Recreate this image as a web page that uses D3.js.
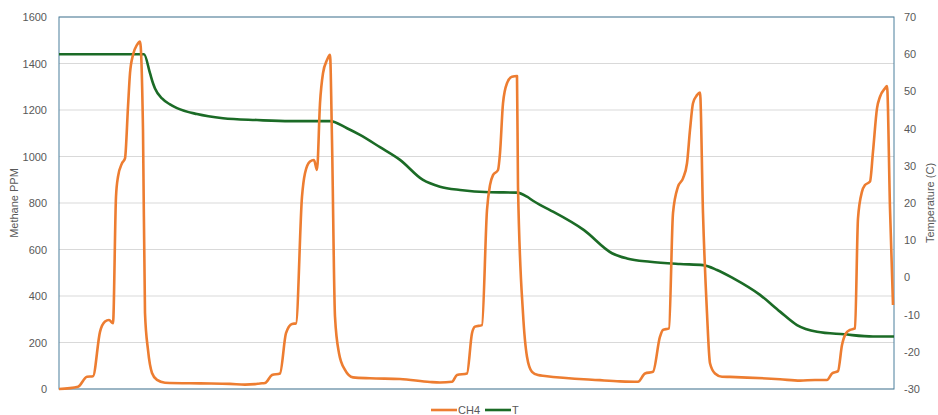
<!DOCTYPE html>
<meta charset="utf-8">
<style>
  body { margin: 0; background: #fff; }
  svg text { font-family: "Liberation Sans", Arial, sans-serif; fill: #595959; }
</style>
<div id="chart"></div>
<script src="https://cdn.jsdelivr.net/npm/d3@7"></script>
<script>
// methane readings (sample index, ppm)
const ch4Time = [0, 19, 28, 34, 41, 46, 50, 54, 57, 59, 63, 66, 69, 71, 74, 78, 81, 84, 86, 89, 93, 98, 106,
  141, 171, 186, 196,
  201, 206, 213, 221, 227, 233, 237, 243, 246, 251, 255, 258, 261, 264, 268, 271, 273, 276, 280, 286, 294, 311, 341,
  371, 381, 393,
  398, 408, 413, 416, 423, 428, 431, 434, 439, 441, 444, 448, 453, 458, 459, 464, 468, 473, 479, 486,
  541, 561, 579,
  586, 594, 601, 604, 610, 614, 619, 624, 628, 631, 634, 638, 641, 644, 648, 651, 656, 663, 671,
  721, 741, 756, 768,
  773, 779, 783, 787, 791, 796, 799, 803, 806, 811, 814, 818, 821, 826, 828, 831, 834];
const ch4 = [0, 10, 53, 55, 246, 290, 297, 283, 827, 913, 971, 992, 1214, 1358, 1437, 1480, 1494, 1114, 327, 168, 69, 39, 27,
  24, 22, 19, 21,
  24, 26, 60, 67, 240, 280, 282, 827, 928, 978, 985, 942, 1229, 1358, 1415, 1437, 1071, 311, 154, 82, 50, 46, 43,
  30, 28, 31,
  60, 67, 240, 268, 275, 770, 877, 920, 942, 1014, 1229, 1315, 1343, 1346, 870, 326, 139, 74, 60, 56,
  38, 33, 31,
  67, 74, 225, 254, 261, 756, 870, 906, 971, 1114, 1229, 1264, 1275, 756, 326, 111, 67, 53, 52,
  42, 36, 39, 39,
  67, 77, 189, 240, 254, 261, 734, 849, 877, 892, 1021, 1207, 1257, 1293, 1303, 777, 361];

// temperature readings (sample index, degrees C)
const tempTime = [0, 85, 91, 94, 96, 103, 111, 118, 138, 164, 198, 231, 271, 288, 301, 321, 341, 364, 381, 401, 431,
  458, 468, 474, 481, 491, 525, 553, 568, 591, 621, 644, 658, 674, 701, 721, 738, 758, 785, 814, 835];
const temp = [60, 60, 54.9, 52.2, 50.8, 48.1, 46.5, 45.5, 43.9, 42.8, 42.3, 42.0, 42.0, 40.1, 38.3, 35.0, 31.6, 26.2, 24.4, 23.5, 22.9,
  22.8, 21.7, 20.6, 19.5, 18.1, 12.7, 6.5, 5.1, 4.2, 3.6, 3.3, 2.0, -0.2, -4.7, -9.2, -12.8, -14.6, -15.3, -15.9, -15.9];

const ppmTicks = [0, 200, 400, 600, 800, 1000, 1200, 1400, 1600];
const tempTicks = [-30, -20, -10, 0, 10, 20, 30, 40, 50, 60, 70];

const width = 938, height = 415;
const margin = {top: 17, right: 44, bottom: 26, left: 59};

const x = d3.scaleLinear().domain([0, 835]).range([margin.left, width - margin.right]);
const yL = d3.scaleLinear().domain([0, 1600]).range([height - margin.bottom, margin.top]);
const yR = d3.scaleLinear().domain([-30, 70]).range([height - margin.bottom, margin.top]);

const svg = d3.select("#chart").append("svg")
    .attr("width", width).attr("height", height);

// gridlines
svg.append("g")
    .selectAll("line")
    .data(ppmTicks)
    .join("line")
      .attr("x1", margin.left).attr("x2", width - margin.right)
      .attr("y1", d => yL(d)).attr("y2", d => yL(d))
      .attr("stroke", "#d9d9d9").attr("stroke-width", 1);

// plot frame
svg.append("rect")
    .attr("x", margin.left).attr("y", margin.top)
    .attr("width", width - margin.left - margin.right)
    .attr("height", height - margin.top - margin.bottom)
    .attr("fill", "none").attr("stroke", "#4a7e9c").attr("stroke-width", 1);

let leftAxis = g => g
    .attr("transform", `translate(${margin.left},0)`)
    .call(d3.axisLeft(yL).tickValues(ppmTicks).tickFormat(d => String(d)).tickSize(0).tickPadding(12))
    .call(g => g.select(".domain").remove())
    .call(g => g.selectAll("text").attr("font-size", 11).attr("fill", "#595959"));
let rightAxis = g => g
    .attr("transform", `translate(${width - margin.right},0)`)
    .call(d3.axisRight(yR).tickValues(tempTicks).tickFormat(d => String(d)).tickSize(0).tickPadding(10))
    .call(g => g.select(".domain").remove())
    .call(g => g.selectAll("text").attr("font-size", 11).attr("fill", "#595959"));
svg.append("g").call(leftAxis);
svg.append("g").call(rightAxis);

svg.append("text")
    .attr("transform", `translate(18,${(margin.top + height - margin.bottom) / 2}) rotate(-90)`)
    .attr("text-anchor", "middle").attr("font-size", 11)
    .text("Methane PPM");
svg.append("text")
    .attr("transform", `translate(934,${(margin.top + height - margin.bottom) / 2}) rotate(-90)`)
    .attr("text-anchor", "middle").attr("font-size", 11)
    .text("Temperature (C)");

const ch4Line = d3.line().x(d => x(d[0])).y(d => yL(d[1])).curve(d3.curveMonotoneX);
const tLine = d3.line().x(d => x(d[0])).y(d => yR(d[1])).curve(d3.curveMonotoneX);

svg.append("path")
    .datum(d3.zip(tempTime, temp))
    .attr("fill", "none").attr("stroke", "#1b6b26").attr("stroke-width", 2.6)
    .attr("d", tLine);
svg.append("path")
    .datum(d3.zip(ch4Time, ch4))
    .attr("fill", "none").attr("stroke", "#ed7d31").attr("stroke-width", 2.6)
    .attr("stroke-linejoin", "round")
    .attr("d", ch4Line);

// legend
const legend = svg.append("g").attr("transform", "translate(431,410)");
[["CH4", "#ed7d31", 0], ["T", "#1b6b26", 54]].forEach(([name, color, dx]) => {
  legend.append("line")
      .attr("x1", dx).attr("x2", dx + 26).attr("y1", 0).attr("y2", 0)
      .attr("stroke", color).attr("stroke-width", 2.6);
  legend.append("text")
      .attr("x", dx + 27).attr("y", 4).attr("font-size", 11)
      .text(name);
});
</script>
